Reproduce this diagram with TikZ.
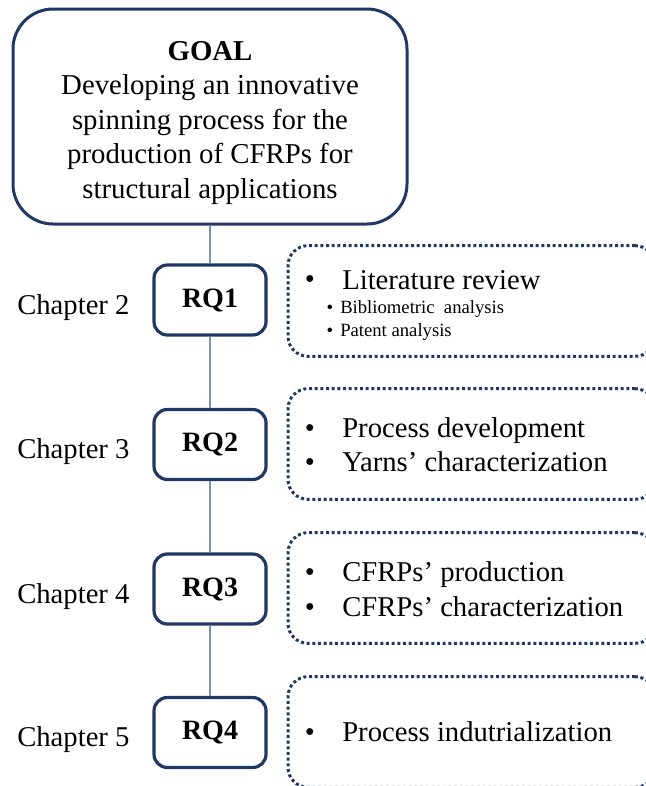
\documentclass[tikz,border=0pt]{standalone}
\usepackage{fontspec}
\setmainfont{Liberation Serif}
\definecolor{navy}{RGB}{31,56,100}
\definecolor{stem}{RGB}{125,145,180}
\begin{document}
\begin{tikzpicture}[x=0.75pt,y=-0.75pt,
  goalbox/.style={draw=navy, line width=2.25pt, rounded corners=30pt, fill=white, minimum width=295.5pt, minimum height=161.25pt, inner sep=0pt, align=center, font=\fontsize{21.6}{25.9}\selectfont},
  rqbox/.style={draw=navy, line width=2.4pt, rounded corners=10pt, fill=white, minimum width=84pt, minimum height=52.5pt, inner sep=0pt, font=\fontsize{21}{25}\selectfont\bfseries},
  dotbox/.style={draw=navy, line width=2.25pt, dash pattern=on 2.25pt off 2pt, rounded corners=15pt, minimum width=275.25pt, minimum height=83pt, inner sep=0pt},
  chap/.style={anchor=base west, inner sep=0pt, font=\fontsize{21.5}{25}\selectfont},
  item/.style={anchor=base west, inner sep=0pt, font=\fontsize{21.5}{25}\selectfont},
  bul/.style={anchor=base, inner sep=0pt, font=\fontsize{21.5}{25}\selectfont},
  subbul/.style={anchor=base, inner sep=0pt, font=\fontsize{14}{17}\selectfont},
  subitem/.style={anchor=base west, inner sep=0pt, font=\fontsize{14}{17}\selectfont},
  stemline/.style={draw=stem, line width=0.8pt}
]
\useasboundingbox (0,0) rectangle (646,786);
\clip (0,0) rectangle (646,786);

\node[goalbox] (goal) at (210,116.5) {\rule{0pt}{24pt}\textbf{GOAL}\\Developing an innovative\\spinning process for the\\production of CFRPs for\\structural applications};

\node[rqbox] (rq1) at (210,300) {RQ1};
\node[rqbox] (rq2) at (210,444.5) {RQ2};
\node[rqbox] (rq3) at (210,589) {RQ3};
\node[rqbox] (rq4) at (210,732.5) {RQ4};

\draw[stemline] (goal.south) -- (rq1.north);
\draw[stemline] (rq1.south) -- (rq2.north);
\draw[stemline] (rq2.south) -- (rq3.north);
\draw[stemline] (rq3.south) -- (rq4.north);

\node[chap] (ch2) at (17,314) {Chapter 2};
\node[chap] (ch3) at (17,458) {Chapter 3};
\node[chap] (ch4) at (17,603) {Chapter 4};
\node[chap] (ch5) at (17,746) {Chapter 5};

\node[dotbox] (d1) at (471.5,301) {};
\node[dotbox] (d2) at (471.5,444) {};
\node[dotbox] (d3) at (471.5,588) {};
\node[dotbox] (d4) at (471.5,732) {};

\node[bul] (b11) at (310,288) {•};
\node[item] (t11) at (342,289) {Literature review};
\node[subbul] (b12) at (330,313) {•};
\node[subitem] (t12) at (340,313) {Bibliometric~ analysis};
\node[subbul] (b13) at (330,336) {•};
\node[subitem] (t13) at (340,336) {Patent analysis};

\node[bul] (b21) at (310,437) {•};
\node[item] (t21) at (342,437) {Process development};
\node[bul] (b22) at (310,471) {•};
\node[item] (t22) at (342,471) {Yarns’ characterization};

\node[bul] (b31) at (310,581) {•};
\node[item] (t31) at (342,581) {CFRPs’ production};
\node[bul] (b32) at (310,616) {•};
\node[item] (t32) at (342,616) {CFRPs’ characterization};

\node[bul] (b41) at (310,741) {•};
\node[item] (t41) at (342,741) {Process indutrialization};
\end{tikzpicture}
\end{document}
